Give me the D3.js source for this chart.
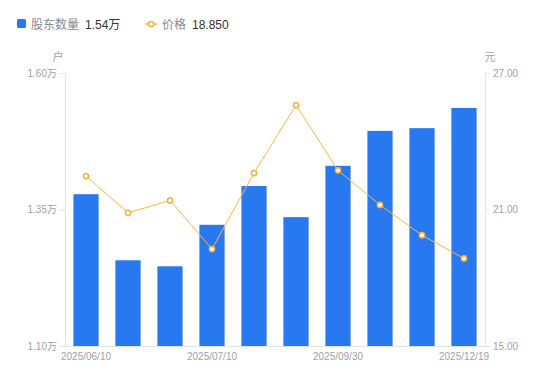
<!DOCTYPE html>
<html>
<head>
<meta charset="utf-8">
<script src="https://cdn.jsdelivr.net/npm/d3@7"></script>
<style>
  body { margin: 0; background: #fff; font-family: "Liberation Sans", "Noto Sans CJK SC", sans-serif; }
</style>
</head>
<body>
<div id="chart"></div>
<script>
const dates = ['2025/06/10', '2025/06/20', '2025/06/30', '2025/07/10', '2025/07/31', '2025/08/20', '2025/09/30', '2025/10/31', '2025/11/30', '2025/12/19'];
const holders = [1.378, 1.257, 1.246, 1.322, 1.393, 1.336, 1.430, 1.494, 1.499, 1.536];
const prices = [22.47, 20.85, 21.40, 19.26, 22.60, 25.59, 22.72, 21.20, 19.87, 18.85];
const shownDates = ['2025/06/10', '2025/07/10', '2025/09/30', '2025/12/19'];
const leftTicks = [1.10, 1.35, 1.60];
const rightTicks = [15, 21, 27];

const width = 550, height = 381;
const margin = { top: 73, right: 65, bottom: 35, left: 65 };
const font = '"Liberation Sans", "Noto Sans CJK SC", sans-serif';

const svg = d3.select('#chart').append('svg')
    .attr('width', width)
    .attr('height', height)
    .style('font-family', font);

const x = d3.scaleBand()
    .domain(dates)
    .range([margin.left, width - margin.right])
    .paddingInner(0.4)
    .paddingOuter(0.2);

const yL = d3.scaleLinear().domain([1.10, 1.60]).range([height - margin.bottom, margin.top]);
const yR = d3.scaleLinear().domain([15, 27]).range([height - margin.bottom, margin.top]);

const axisColor = '#e3e3e3';
const tickText = '#a0a0a8';

// axes
const gl = svg.append('g')
    .attr('transform', `translate(${margin.left},0)`)
    .call(d3.axisLeft(yL).tickValues(leftTicks).tickSize(5).tickPadding(3).tickFormat(d => d.toFixed(2) + '万'));
const gr = svg.append('g')
    .attr('transform', `translate(${width - margin.right},0)`)
    .call(d3.axisRight(yR).tickValues(rightTicks).tickSize(5).tickPadding(3).tickFormat(d => d.toFixed(2)));
const gb = svg.append('g')
    .attr('transform', `translate(0,${height - margin.bottom})`)
    .call(d3.axisBottom(x).tickValues(shownDates).tickSize(0).tickPadding(7));

[gl, gr, gb].forEach(g => {
    g.select('.domain').attr('stroke', axisColor);
    g.selectAll('.tick line').attr('stroke', axisColor);
    g.selectAll('.tick text').attr('fill', tickText).style('font-size', '10px')
        .style('font-family', font);
});

// axis titles
svg.append('text').attr('x', 58).attr('y', 61).attr('text-anchor', 'middle')
    .attr('fill', tickText).style('font-size', '11px').text('户');
svg.append('text').attr('x', 490).attr('y', 61).attr('text-anchor', 'middle')
    .attr('fill', tickText).style('font-size', '11px').text('元');

// bars
svg.append('g').selectAll('rect')
    .data(holders)
    .enter()
    .append('rect')
    .attr('x', (d, i) => x(dates[i]))
    .attr('y', d => yL(d))
    .attr('width', x.bandwidth())
    .attr('height', d => yL(1.10) - yL(d))
    .attr('fill', '#2878f0');

// price line
const line = d3.line()
    .x((d, i) => x(dates[i]) + x.bandwidth() / 2)
    .y(d => yR(d));

svg.append('path')
    .datum(prices)
    .attr('d', line)
    .attr('fill', 'none')
    .attr('stroke', '#f8b83c')
    .attr('stroke-width', 1);

svg.append('g').selectAll('circle')
    .data(prices)
    .enter()
    .append('circle')
    .attr('cx', (d, i) => x(dates[i]) + x.bandwidth() / 2)
    .attr('cy', d => yR(d))
    .attr('r', 2.6)
    .attr('fill', '#fff')
    .attr('stroke', '#f8b03a')
    .attr('stroke-width', 1.5);

// legend
const lg = svg.append('g').style('font-size', '12px');
lg.append('rect').attr('x', 17).attr('y', 19).attr('width', 9).attr('height', 9).attr('rx', 1.5).attr('fill', '#2878f0');
lg.append('text').attr('x', 31).attr('y', 28.5).attr('fill', '#8a8a92').text('股东数量');
lg.append('text').attr('x', 85).attr('y', 28.5).attr('fill', '#333').text(holders[holders.length - 1].toFixed(2) + '万');
lg.append('line').attr('x1', 145).attr('x2', 157).attr('y1', 24).attr('y2', 24).attr('stroke', '#f8b83c').attr('stroke-width', 1.5);
lg.append('circle').attr('cx', 151).attr('cy', 24).attr('r', 2.6).attr('fill', '#fff').attr('stroke', '#f8b03a').attr('stroke-width', 1.5);
lg.append('text').attr('x', 162).attr('y', 28.5).attr('fill', '#8a8a92').text('价格');
lg.append('text').attr('x', 192).attr('y', 28.5).attr('fill', '#333').text(prices[prices.length - 1].toFixed(3));
</script>
</body>
</html>
